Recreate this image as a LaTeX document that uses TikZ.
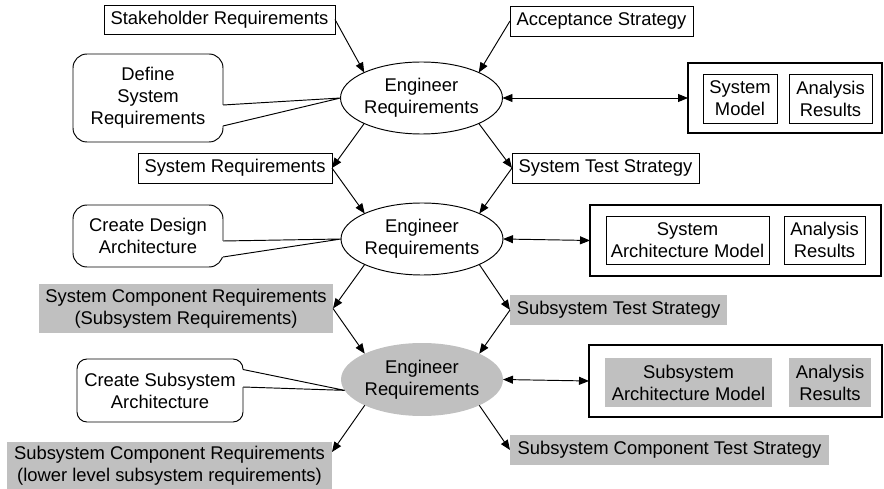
\documentclass[tikz,border=0pt]{standalone}
\usepackage{fontspec}
\setmainfont{Liberation Sans}
\usetikzlibrary{shapes.geometric,arrows.meta}
\definecolor{boxgray}{RGB}{192,192,192}
\begin{document}
\begin{tikzpicture}[x=1pt,y=-1pt,
  every node/.style={font=\fontsize{18.4}{22}\selectfont, align=center, inner sep=0pt, outer sep=0pt},
  box/.style={draw, line width=0.95pt},
  gbox/.style={fill=boxgray},
  frame/.style={draw, line width=1.25pt},
  eng/.style={ellipse, draw, line width=0.95pt, minimum width=135pt, minimum height=72pt},
  geng/.style={ellipse, fill=boxgray, minimum width=136pt, minimum height=73pt},
  cobox/.style={draw, line width=0.95pt, rounded corners=#1},
  coline/.style={line width=0.95pt, line join=miter},
  arr/.style={line width=0.95pt, -{Triangle[length=10pt,width=8pt]}},
  darr/.style={line width=0.95pt, {Triangle[length=10pt,width=8pt]}-{Triangle[length=10pt,width=8pt]}},
  sz/.style 2 args={minimum width=#1pt, minimum height=#2pt}]
\useasboundingbox (0,0) rectangle (884,489);

% ---- level 1: system requirements
\node[box, sz={231}{29}] (sh) at (219.5,19.5) {Stakeholder Requirements};
\node[box, sz={183}{30}] (acc) at (601.5,21) {Acceptance Strategy};
\node[eng] (e1) at (421.5,98) {Engineer\\Requirements};
\node[cobox=14pt, sz={150}{88}] (c1) at (148,98) {Define\\System\\Requirements};
\node[frame, sz={194}{70}] (out1) at (785,98) {};
\node[box, sz={74}{49}] (sm) at (740,98.5) {System\\Model};
\node[box, sz={83}{49}] (ar1) at (830.5,98.5) {Analysis\\Results};
\node[box, sz={194}{30}] (sr) at (235,168) {System Requirements};
\node[box, sz={187}{30}] (sts) at (605.5,168) {System Test Strategy};

% ---- level 2: design architecture
\node[eng] (e2) at (422,239) {Engineer\\Requirements};
\node[cobox=14pt, sz={150}{62}] (c2) at (148,236) {Create Design\\Architecture};
\node[frame, sz={291}{71}] (out2) at (735.5,240.5) {};
\node[box, sz={163}{48}] (sam) at (687.5,240) {System\\Architecture Model};
\node[box, sz={81}{48}] (ar2) at (824.5,240) {Analysis\\Results};
\node[gbox, sz={294}{49}] (scr) at (186,308.5) {System Component Requirements\\(Subsystem Requirements)};
\node[gbox, sz={217}{30}] (subts) at (618.5,310) {Subsystem Test Strategy};

% ---- level 3: subsystem architecture
\node[geng] (e3) at (422,379.5) {Engineer\\Requirements};
\node[cobox=10pt, sz={166}{63}] (c3) at (160,390.5) {Create Subsystem\\Architecture};
\node[frame, sz={293}{72}] (out3) at (735.5,381) {};
\node[gbox, sz={167}{49}] (subam) at (688.5,382.5) {Subsystem\\Architecture Model};
\node[gbox, sz={82}{49}] (ar3) at (830,382.5) {Analysis\\Results};
\node[gbox, sz={325}{47}] (subcr) at (169.5,465.5) {Subsystem Component Requirements\\(lower level subsystem requirements)};
\node[gbox, sz={319}{30}] (scts) at (669.5,450) {Subsystem Component Test Strategy};

% ---- callout pointers: open the border, then draw the two sides
\coordinate (p1a) at ([yshift=-7pt]c1.east);
\coordinate (p1b) at ([yshift=-28pt]c1.east);
\coordinate (p2a) at ([yshift=-5pt]c2.east);
\coordinate (p2b) at ([yshift=-21pt]c2.east);
\coordinate (p3a) at ([yshift=21pt]c3.east);
\coordinate (p3b) at ([yshift=3.5pt]c3.east);
\fill[white] ([xshift=-1.5pt]p1a) -- (e1.west) -- ([xshift=-1.5pt]p1b) -- cycle;
\fill[white] ([xshift=-1.5pt]p2a) -- (e2.west) -- ([xshift=-1.5pt]p2b) -- cycle;
\fill[white] ([xshift=-1.5pt]p3a) -- ([xshift=-2pt]e3.188) -- ([xshift=-1.5pt]p3b) -- cycle;
\draw[coline] (p1a) -- (e1.west) -- (p1b);
\draw[coline] (p2a) -- (e2.west) -- (p2b);
\draw[coline] (p3a) -- (e3.188) -- (p3b);

% ---- flow connectors
\draw[arr] (sh.east) -- (e1.north west);
\draw[arr] (acc.west) -- (e1.north east);
\draw[darr] (e1.east) -- (out1.west);
\draw[arr] (e1.south west) -- (sr.east);
\draw[arr] (e1.south east) -- (sts.west);
\draw[arr] (sr.east) -- (e2.north west);
\draw[arr] (sts.west) -- (e2.north east);
\draw[darr] (e2.east) -- (out2.west);
\draw[arr] (e2.south west) -- (scr.east);
\draw[arr] (e2.south east) -- (subts.west);
\draw[arr] (scr.east) -- (e3.north west);
\draw[arr] (subts.west) -- (e3.north east);
\draw[darr] (e3.east) -- (out3.west);
\draw[arr] (e3.south west) -- ([yshift=-10pt]subcr.north east);
\draw[arr] (e3.south east) -- (scts.west);
\end{tikzpicture}
\end{document}
